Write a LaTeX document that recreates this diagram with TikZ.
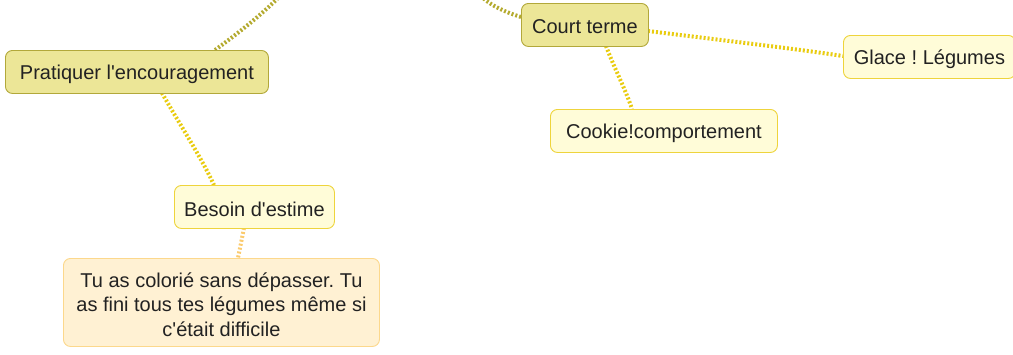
\documentclass[tikz,border=0pt]{standalone}
\usepackage{fontspec}
\setmainfont{Liberation Sans}[Ligatures=TeXOff]
\frenchspacing
\definecolor{olivefill}{HTML}{ECE697}
\definecolor{olivedraw}{HTML}{B2A83A}
\definecolor{yelfill}{HTML}{FFFCD8}
\definecolor{yeldraw}{HTML}{EED43C}
\definecolor{orfill}{HTML}{FFF1D3}
\definecolor{ordraw}{HTML}{FCD88C}
\definecolor{olivelink}{HTML}{B4AA2E}
\definecolor{yellink}{HTML}{E9CC10}
\definecolor{orlink}{HTML}{FBCB6E}
\definecolor{txt}{HTML}{222222}
\begin{document}
\begin{tikzpicture}[x=1pt,y=-1pt,
  box/.style={rounded corners=7pt, line width=0.9pt, inner sep=0pt, anchor=north west},
  main/.style={box, fill=olivefill, draw=olivedraw},
  sub/.style={box, fill=yelfill, draw=yeldraw},
  leaf/.style={box, fill=orfill, draw=ordraw},
  lbl/.style={font=\fontsize{20}{24.5}\selectfont, text=txt, inner sep=0pt, align=center, yshift=-2pt},
  link/.style={line width=4pt, dash pattern=on 2pt off 2pt},
]
\useasboundingbox (0,0) rectangle (1013,354);
% connectors
\coordinate (top1) at (278,-2);
\coordinate (top2) at (483,-2);
\draw[link, olivelink] (215,50) .. controls (240,32) and (262,14) .. (top1);
\draw[link, olivelink] (521,17) .. controls (505,12) and (492,6) .. (top2);
\draw[link, yellink] (648,31) .. controls (720,40) and (790,48) .. (843,56);
\draw[link, yellink] (606,46) .. controls (615,70) and (625,88) .. (632,109);
\draw[link, yellink] (162,93) .. controls (180,125) and (200,155) .. (214,185);
\draw[link, orlink] (244,228) .. controls (242,238) and (240,248) .. (238,258);
% nodes
\node[main, minimum width=263pt, minimum height=43pt] (prat) at (5,50) {};
\node[lbl] at (prat.center) {Pratiquer l'encouragement};
\node[main, minimum width=127pt, minimum height=43pt] (court) at (521,3) {};
\node[lbl] at (court.center) {Court terme};
\node[sub, minimum width=172pt, minimum height=43pt] (glace) at (843,35) {};
\node[lbl] at (glace.center) {Glace ! Légumes};
\node[sub, minimum width=227pt, minimum height=43pt] (cookie) at (550,109) {};
\node[lbl] at (cookie.center) {Cookie!comportement};
\node[sub, minimum width=160pt, minimum height=43pt] (besoin) at (174,185) {};
\node[lbl] at (besoin.center) {Besoin d'estime};
\node[leaf, minimum width=316pt, minimum height=88pt] (tu) at (63,258) {};
\node[lbl] at (tu.center) {Tu as colorié sans dépasser. Tu\\as fini tous tes légumes même si\\c'était difficile};
\end{tikzpicture}
\end{document}
